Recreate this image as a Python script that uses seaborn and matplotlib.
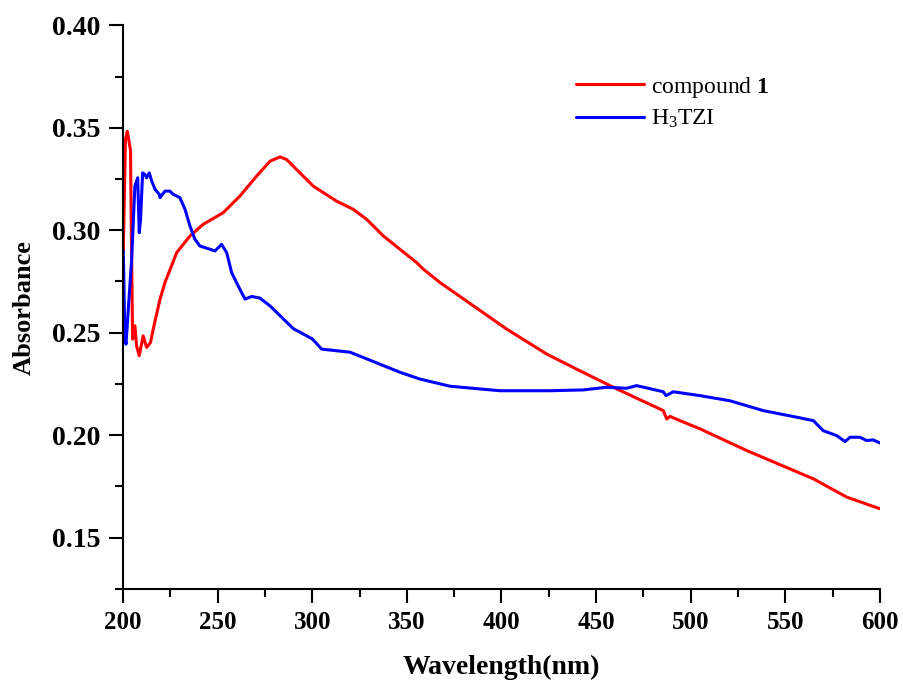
import matplotlib

matplotlib.use("Agg")
import matplotlib.pyplot as plt
import pandas as pd
import seaborn as sns
from matplotlib.ticker import MultipleLocator

# compound 1 (red) - wavelength / absorbance
comp_wl = [200.2, 201.3, 202.3, 204.0, 204.6, 205.1, 206.3, 207.2, 208.6, 210.7,
           212.5, 214.6, 216.0, 219.6, 222.2, 228.4, 235.4, 242.4, 253.0, 261.8,
           270.6, 277.7, 283.0, 286.5, 293.5, 300.6, 312.9, 321.7, 328.8, 337.6,
           346.4, 355.2, 358.7, 367.5, 402.7, 423.9, 441.5, 460.9, 485.5, 487.3,
           489.0, 494.3, 504.9, 529.6, 564.8, 582.4, 600.0]
comp_abs = [0.290, 0.344, 0.3483, 0.339, 0.2858, 0.2469, 0.2534, 0.2436, 0.2388, 0.2485,
            0.2428, 0.2453, 0.2518, 0.2664, 0.2745, 0.2891, 0.2972, 0.3029, 0.3086, 0.3167,
            0.3264, 0.3337, 0.3358, 0.3345, 0.3280, 0.3215, 0.3142, 0.3102, 0.3053, 0.2972,
            0.2907, 0.2842, 0.2810, 0.2745, 0.2518, 0.2396, 0.2314, 0.2226, 0.2120, 0.2079,
            0.2092, 0.2071, 0.2031, 0.1925, 0.1787, 0.1698, 0.1641]

# H3TZI (blue)
tzi_wl = [200.2, 201.0, 201.6, 204.6, 206.3, 207.8, 208.6, 209.3, 210.4, 211.6,
          212.5, 213.9, 215.2, 217.0, 219.2, 219.6, 222.2, 224.8, 226.6, 230.1,
          232.8, 235.4, 238.0, 240.7, 245.1, 248.6, 252.1, 254.8, 257.4, 260.9,
          264.5, 268.0, 272.4, 277.7, 290.0, 300.0, 305.0, 320.0, 346.4, 356.9,
          372.8, 399.2, 425.6, 443.2, 455.5, 466.1, 471.4, 485.5, 486.9, 490.8,
          504.9, 520.7, 538.3, 555.9, 564.8, 570.0, 577.1, 581.5, 584.1, 589.4,
          592.9, 596.4, 600.0]
tzi_abs = [0.290, 0.2485, 0.2444, 0.2858, 0.3215, 0.3256, 0.2988, 0.3053, 0.3280, 0.3272,
           0.3256, 0.3280, 0.3240, 0.3199, 0.3175, 0.3159, 0.3191, 0.3191, 0.3175, 0.3159,
           0.3102, 0.3021, 0.2956, 0.2923, 0.2910, 0.2899, 0.2931, 0.2891, 0.2794, 0.2728,
           0.2664, 0.2677, 0.2669, 0.2631, 0.2520, 0.2470, 0.2420, 0.2405, 0.2307, 0.2274,
           0.2239, 0.2217, 0.2217, 0.2221, 0.2234, 0.2229, 0.2242, 0.2212, 0.2193, 0.2212,
           0.2193, 0.2168, 0.2120, 0.2088, 0.2071, 0.2022, 0.1998, 0.1969, 0.1990, 0.1990,
           0.1974, 0.1977, 0.1962]

labels = ["compound $\\mathbf{1}$", "H$_3$TZI"]
colors = ["#ff0000", "#0000ff"]

df = pd.concat(
    [
        pd.DataFrame({"wl": comp_wl, "abs": comp_abs, "sample": labels[0]}),
        pd.DataFrame({"wl": tzi_wl, "abs": tzi_abs, "sample": labels[1]}),
    ]
)

sns.set_style("ticks")
plt.rcParams["font.family"] = ["Liberation Serif", "DejaVu Serif"]
plt.rcParams["mathtext.fontset"] = "custom"
plt.rcParams["mathtext.rm"] = "Liberation Serif"
plt.rcParams["mathtext.it"] = "Liberation Serif:italic"
plt.rcParams["mathtext.bf"] = "Liberation Serif:bold"
plt.rcParams["text.color"] = "black"
plt.rcParams["axes.labelcolor"] = "black"
plt.rcParams["axes.edgecolor"] = "black"
plt.rcParams["xtick.color"] = "black"
plt.rcParams["ytick.color"] = "black"

fig = plt.figure(figsize=(9.04, 6.84), dpi=100)
ax = fig.add_axes([0.136, 0.139, 0.8375, 0.824])

sns.lineplot(
    data=df, x="wl", y="abs", hue="sample", palette=colors,
    sort=False, estimator=None, linewidth=2.2, ax=ax,
)

ax.set_xlim(200, 600)
ax.set_ylim(0.125, 0.40)
ax.xaxis.set_major_locator(MultipleLocator(50))
ax.xaxis.set_minor_locator(MultipleLocator(25))
ax.yaxis.set_major_locator(MultipleLocator(0.05))
ax.yaxis.set_minor_locator(MultipleLocator(0.025))
ax.yaxis.set_major_formatter(plt.FormatStrFormatter("%.2f"))

sns.despine(ax=ax)
for s in ["left", "bottom"]:
    ax.spines[s].set_linewidth(1.5)
ax.tick_params(which="major", length=10, width=1.5, direction="out", pad=6)
ax.tick_params(axis="x", which="major", labelsize=18)
ax.tick_params(axis="y", which="major", labelsize=20)
ax.tick_params(which="minor", length=6, width=1.5, direction="out")
for lbl in ax.get_xticklabels() + ax.get_yticklabels():
    lbl.set_fontweight("bold")

ax.set_xlabel("Wavelength(nm)", fontsize=20, fontweight="bold", labelpad=15)
ax.set_ylabel("Absorbance", fontsize=19, fontweight="bold", labelpad=12)

ax.legend(
    loc="upper left", bbox_to_anchor=(0.57, 0.95), frameon=False,
    fontsize=17, handlelength=2.9, handletextpad=0.3, labelspacing=0.35,
    title=None,
)

plt.savefig("out.png", dpi=100)
plt.close()
